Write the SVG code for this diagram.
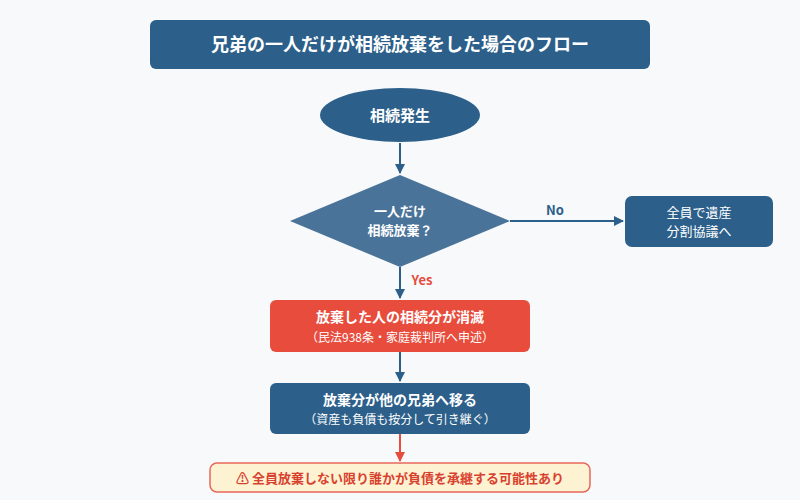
<svg xmlns="http://www.w3.org/2000/svg" width="800" height="500" viewBox="0 0 800 500">
<defs>
<marker id="ab" markerWidth="10" markerHeight="10" refX="9" refY="5" orient="auto" markerUnits="userSpaceOnUse"><path d="M0,0 L10,5 L0,10 z" fill="#2c5f8a"/></marker>
<marker id="ar" markerWidth="10" markerHeight="10" refX="9" refY="5" orient="auto" markerUnits="userSpaceOnUse"><path d="M0,0 L10,5 L0,10 z" fill="#e74c3c"/></marker>
<style>
text{font-family:"Noto Sans CJK JP","Noto Sans",sans-serif;text-anchor:middle}
.w{fill:#fff}.b{font-weight:bold}
.l{stroke:#2c5f8a;stroke-width:2;fill:none}
</style>
</defs>
<rect width="800" height="500" fill="#f7f9fb"/>
<g id="title"><rect x="150" y="20" width="500" height="49" rx="6" fill="#2c5f8a"/><text x="400" y="51" class="w b" font-size="18">兄弟の一人だけが相続放棄をした場合のフロー</text></g>
<g id="start"><ellipse cx="400" cy="115" rx="80" ry="27" fill="#2c5f8a"/><text x="400" y="121" class="w b" font-size="15">相続発生</text></g>
<g id="decision"><polygon points="400,175 510,221 400,267 290,221" fill="#4a7399"/><text x="400" y="216" class="w b" font-size="13">一人だけ</text><text x="400" y="235" class="w b" font-size="13">相続放棄？</text></g>
<g id="no"><rect x="625" y="196" width="148" height="51" rx="7" fill="#2c5f8a"/><text x="699" y="217" class="w" font-size="13">全員で遺産</text><text x="699" y="236" class="w" font-size="13">分割協議へ</text></g>
<g id="lapse"><rect x="270" y="300" width="260" height="52" rx="6" fill="#e74c3c"/><text x="400" y="322" class="w b" font-size="14">放棄した人の相続分が消滅</text><text x="400" y="342" class="w" font-size="12">（民法938条・家庭裁判所へ申述）</text></g>
<g id="shift"><rect x="270" y="383" width="260" height="51" rx="6" fill="#2c5f8a"/><text x="400" y="405" class="w b" font-size="14">放棄分が他の兄弟へ移る</text><text x="400" y="424" class="w" font-size="12">（資産も負債も按分して引き継ぐ）</text></g>
<g id="warn"><rect x="210" y="463" width="380" height="29" rx="7" fill="#fdf3d2" stroke="#e8675a" stroke-width="1.5"/><text x="400" y="483" class="b" font-size="13" fill="#d9412f">⚠ 全員放棄しない限り誰かが負債を承継する可能性あり</text></g>
<g id="connectors">
<line x1="400" y1="143" x2="400" y2="173" class="l" marker-end="url(#ab)"/>
<line x1="510" y1="221" x2="623" y2="221" class="l" marker-end="url(#ab)"/>
<text x="555" y="215" font-size="13" class="b" fill="#2c5f8a">No</text>
<line x1="400" y1="267" x2="400" y2="298" class="l" marker-end="url(#ab)"/>
<text x="422" y="285" font-size="13" class="b" fill="#e74c3c">Yes</text>
<line x1="400" y1="352" x2="400" y2="381" class="l" marker-end="url(#ab)"/>
<line x1="400" y1="434" x2="400" y2="461" stroke="#e74c3c" stroke-width="2" marker-end="url(#ar)"/>
</g>
</svg>
